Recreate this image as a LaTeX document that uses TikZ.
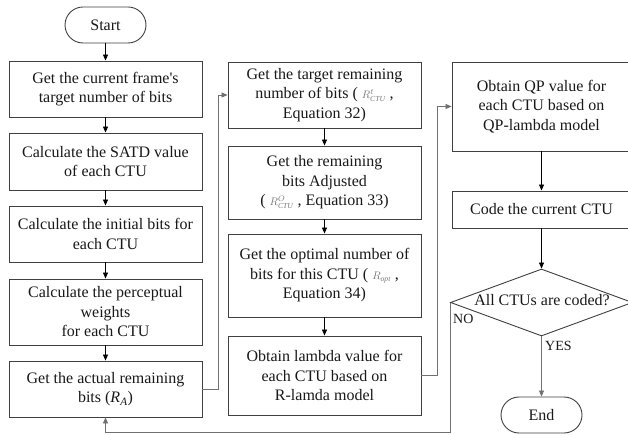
\documentclass[tikz,border=0pt]{standalone}
\usepackage{fontspec}
\setmainfont{Liberation Serif}
\usetikzlibrary{arrows.meta,shapes.geometric}
\definecolor{boxc}{HTML}{404040}
\definecolor{linec}{HTML}{707070}
\definecolor{mathc}{HTML}{7A7A7A}
\newcommand{\mth}[1]{{\color{mathc}\fontsize{11}{11}\selectfont$#1$}}
\begin{document}
\begin{tikzpicture}[x=1pt,y=-1pt,
  box/.style={draw=boxc, line width=0.9pt, minimum width=193pt, align=center, inner sep=0pt,
    font=\fontsize{16}{19.5}\selectfont, text=black!90},
  term/.style={draw=boxc, line width=0.9pt, rounded corners=18pt, minimum width=81pt,
    minimum height=36pt, inner sep=0pt, font=\fontsize{16}{19.5}\selectfont, text=black!90},
  arr/.style={-{Triangle[length=6pt,width=5pt]}, line width=0.8pt, draw=black},
  garr/.style={-{Triangle[length=6pt,width=5pt]}, line width=0.8pt, draw=linec},
  lbl/.style={font=\fontsize{14}{16}\selectfont, text=black!90, inner sep=0pt}
]
\useasboundingbox (0,0) rectangle (628,435);
\fill[white] (0,0) rectangle (628,435);

% left column
\node[term] (start) at (105.5,25) {Start};
\node[box, minimum height=56pt] (b1) at (105.5,89) {Get the current frame\textquotesingle s\\target number of bits};
\node[box, minimum height=57pt] (b2) at (105.5,161.5) {Calculate the SATD value\\of each CTU};
\node[box, minimum height=56pt] (b3) at (105.5,234) {Calculate the initial bits for\\each CTU};
\node[box, minimum height=66pt] (b4) at (105.5,312) {Calculate the perceptual\\weights\\for each CTU};
\node[box, minimum height=56pt] (b5) at (105.5,389) {Get the actual remaining\\bits (\textit{R}\textsubscript{\textit{A}})};

% middle column
\node[box, minimum height=66pt] (b6) at (324.5,95) {Get the target remaining\\number of bits ( \mth{R^{t}_{\mathit{CTU}}} ,\\Equation 32)};
\node[box, minimum height=73pt] (b7) at (324.5,182.5) {Get the remaining\\bits Adjusted\\( \mth{R^{O}_{\mathit{CTU}}} , Equation 33)};
\node[box, minimum height=83pt] (b8) at (324.5,275.5) {Get the optimal number of\\bits for this CTU ( \mth{R_{\mathit{opt}}} ,\\Equation 34)};
\node[box, minimum height=79pt] (b9) at (324.5,375.5) {Obtain lambda value for\\each CTU based on\\R-lamda model};

% right column
\node[box, minimum width=179pt, minimum height=89pt] (b10) at (541.5,106.5) {Obtain QP value for\\each CTU based on\\QP-lambda model};
\node[box, minimum width=179pt, minimum height=37pt] (b11) at (541.5,209.5) {Code the current CTU};
\node[diamond, draw=boxc, line width=0.9pt, minimum width=182pt, minimum height=67pt, inner sep=0pt] (dec) at (541.5,302.5) {};
\node[box, draw=none, minimum width=0pt] (dect) at (542,300) {All CTUs are coded?};
\node[term] (end) at (541.5,415) {End};

% straight arrows
\draw[arr] (start) -- (b1);
\draw[arr] (b1) -- (b2);
\draw[arr] (b2) -- (b3);
\draw[arr] (b3) -- (b4);
\draw[arr] (b4) -- (b5);
\draw[arr] (b6) -- (b7);
\draw[arr] (b7) -- (b8);
\draw[arr] (b8) -- (b9);
\draw[arr] (b10) -- (b11);
\draw[arr] (b11) -- (dec);
\draw[garr] (dec) -- (end);

% loops
\coordinate (c1) at (218,0);
\coordinate (c2) at (437,0);
\coordinate (c3) at (0,432);
\draw[garr] (b5.east) -- (b5.east -| c1) |- (b6.west);
\draw[garr] (b9.east) -- (b9.east -| c2) |- (b10.west);
\draw[garr] (dec.west) -- (dec.west |- c3) -| (b5.south);

% labels
\node[lbl, anchor=west] (no) at (453,319) {NO};
\node[lbl, anchor=west] (yes) at (545,346) {YES};
\end{tikzpicture}
\end{document}
